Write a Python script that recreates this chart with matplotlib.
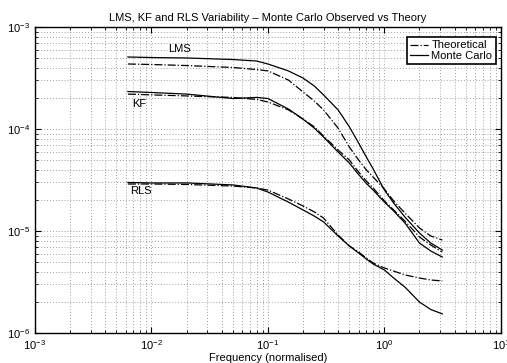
import matplotlib
matplotlib.use("Agg")
import matplotlib.pyplot as plt
from matplotlib.ticker import LogLocator, NullFormatter

plt.rcParams['font.family'] = ['Liberation Sans', 'DejaVu Sans']
plt.rcParams['mathtext.fontset'] = 'custom'
plt.rcParams['mathtext.rm'] = 'Liberation Sans'

# normalised frequency
freq = [0.00628, 0.01, 0.02, 0.05, 0.08, 0.1, 0.15, 0.2, 0.25, 0.3, 0.4, 0.5,
        0.6, 0.7, 0.8, 1.0, 1.2, 1.5, 2.0, 2.5, 3.14]

lms_mc = [5.08e-4, 5.02e-4, 4.97e-4, 4.80e-4, 4.64e-4, 4.34e-4, 3.71e-4, 3.16e-4,
          2.64e-4, 2.16e-4, 1.54e-4, 1.05e-4, 7.29e-5, 5.31e-5, 4.06e-5, 2.52e-5,
          1.88e-5, 1.37e-5, 9.55e-6, 7.62e-6, 6.51e-6]
lms_th = [4.34e-4, 4.29e-4, 4.19e-4, 4.01e-4, 3.83e-4, 3.71e-4, 3.02e-4, 2.31e-4,
          1.88e-4, 1.54e-4, 1.02e-4, 6.66e-5, 4.97e-5, 3.97e-5, 3.38e-5, 2.58e-5,
          1.97e-5, 1.50e-5, 1.07e-5, 8.94e-6, 8.16e-6]
kf_mc = [2.33e-4, 2.28e-4, 2.20e-4, 1.99e-4, 2.04e-4, 1.99e-4, 1.57e-4, 1.25e-4,
         1.02e-4, 8.35e-5, 5.95e-5, 4.64e-5, 3.58e-5, 2.93e-5, 2.52e-5, 1.92e-5,
         1.57e-5, 1.20e-5, 7.62e-6, 6.37e-6, 5.56e-6]
kf_th = [2.20e-4, 2.16e-4, 2.11e-4, 2.04e-4, 1.95e-4, 1.84e-4, 1.54e-4, 1.25e-4,
         1.05e-4, 8.54e-5, 6.22e-5, 4.97e-5, 3.79e-5, 3.09e-5, 2.64e-5, 1.97e-5,
         1.61e-5, 1.25e-5, 8.73e-6, 7.29e-6, 6.22e-6]
rls_mc = [2.99e-5, 2.96e-5, 2.96e-5, 2.83e-5, 2.64e-5, 2.41e-5, 1.92e-5, 1.61e-5,
          1.40e-5, 1.23e-5, 8.94e-6, 7.13e-6, 6.09e-6, 5.31e-6, 4.75e-6, 4.15e-6,
          3.46e-6, 2.82e-6, 2.01e-6, 1.70e-6, 1.54e-6]
rls_th = [2.89e-5, 2.89e-5, 2.86e-5, 2.76e-5, 2.64e-5, 2.52e-5, 2.06e-5, 1.76e-5,
          1.54e-5, 1.34e-5, 9.14e-6, 7.13e-6, 6.22e-6, 5.43e-6, 4.86e-6, 4.34e-6,
          4.05e-6, 3.71e-6, 3.46e-6, 3.31e-6, 3.24e-6]

fig = plt.figure(figsize=(5.07, 3.63), dpi=100)
ax = fig.add_axes([0.069, 0.0826, 0.919, 0.843])

lw = 0.9
ax.loglog(freq, lms_th, 'k-.', lw=lw, label='Theoretical')
ax.loglog(freq, lms_mc, 'k-', lw=lw, label='Monte Carlo')
ax.loglog(freq, kf_th, 'k-.', lw=lw)
ax.loglog(freq, kf_mc, 'k-', lw=lw)
ax.loglog(freq, rls_th, 'k-.', lw=lw)
ax.loglog(freq, rls_mc, 'k-', lw=lw)

ax.set_xlim(1e-3, 1e1)
ax.set_ylim(1e-6, 1e-3)

ax.xaxis.set_major_locator(LogLocator(base=10, numticks=10))
ax.yaxis.set_major_locator(LogLocator(base=10, numticks=10))
ax.xaxis.set_minor_locator(LogLocator(base=10, subs=range(2, 10), numticks=20))
ax.yaxis.set_minor_locator(LogLocator(base=10, subs=range(2, 10), numticks=20))
ax.xaxis.set_minor_formatter(NullFormatter())
ax.yaxis.set_minor_formatter(NullFormatter())

ax.grid(True, which='both', linestyle=(0, (1, 2.5)), color='0.5', linewidth=0.6)
ax.tick_params(which='both', direction='in', top=True, right=True, labelsize=8)
ax.tick_params(which='major', length=4)
ax.tick_params(which='minor', length=2)
for s in ax.spines.values():
    s.set_linewidth(1.0)

ax.text(0.0139, 6.1e-4, 'LMS', fontsize=8, va='center')
ax.text(0.0068, 1.76e-4, 'KF', fontsize=8, va='center')
ax.text(0.0065, 2.44e-5, 'RLS', fontsize=8, va='center')

ax.set_title('LMS, KF and RLS Variability \u2013 Monte Carlo Observed vs Theory',
             fontsize=8, pad=4)
ax.set_xlabel('Frequency (normalised)', fontsize=8, labelpad=1)

leg = ax.legend(loc='upper right', bbox_to_anchor=(0.989, 0.967), borderaxespad=0,
                fontsize=8, fancybox=False, framealpha=1, edgecolor='k',
                handlelength=1.6, handletextpad=0.3, labelspacing=0.05, borderpad=0.3)
leg.get_frame().set_linewidth(1.2)

fig.savefig('out.png', dpi=100)
